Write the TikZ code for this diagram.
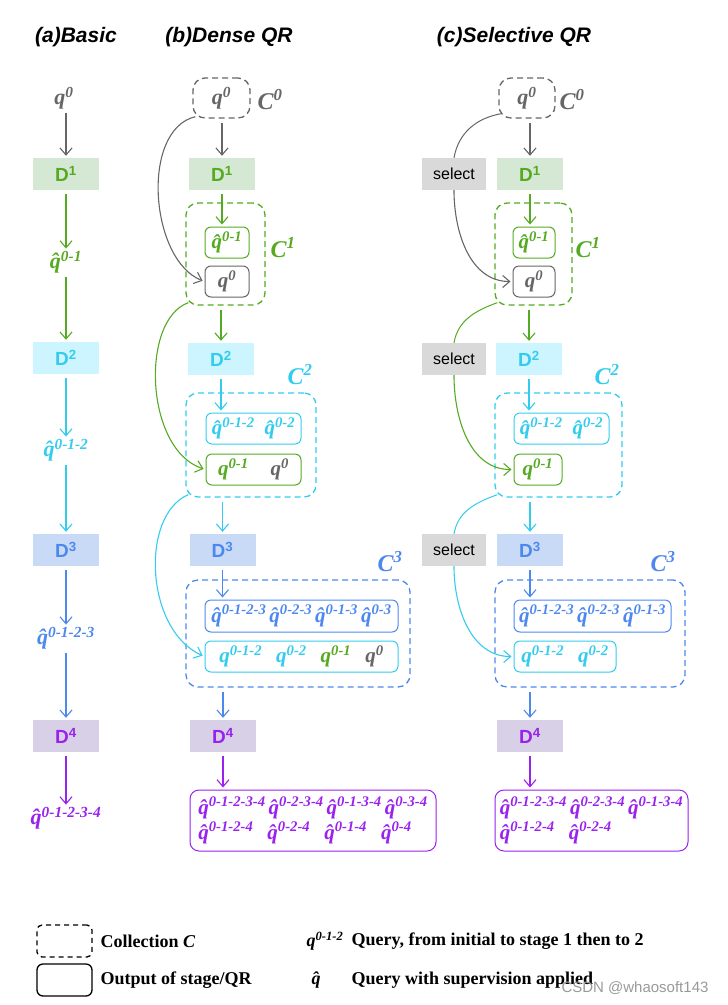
\documentclass[tikz,border=0pt]{standalone}
\usepackage{fontspec}
\setmainfont{Liberation Serif}
\newfontfamily\sanf{Liberation Sans}
\usetikzlibrary{arrows.meta}
\definecolor{cg}{HTML}{666666}
\definecolor{cgr}{HTML}{55AA22}
\definecolor{cgrf}{HTML}{D5E8D4}
\definecolor{ccy}{HTML}{33CCEE}
\definecolor{ccyf}{HTML}{CCF5FF}
\definecolor{cbl}{HTML}{4D88EE}
\definecolor{cblf}{HTML}{C8DAF6}
\definecolor{cpu}{HTML}{9922EE}
\definecolor{cpuf}{HTML}{D8D0E6}
\newcommand\Q[1]{{\bfseries\itshape q\textsuperscript{#1}}}
\newcommand\QH[1]{{\bfseries\itshape \^{q}\textsuperscript{#1}}}
\newcommand\vsrc[3]{\draw[ar,#1] (#2.south) -- (#2.south |- #3.north);}
\newcommand\vtgt[3]{\draw[ar,#1] (#2.south -| #3.north) -- (#3.north);}
\tikzset{
 qt/.style={font=\fontsize{22}{24}\selectfont, inner sep=0pt},
 ct/.style={font=\fontsize{24}{26}\selectfont\bfseries\itshape, inner sep=0pt},
 dn/.style={minimum width=66pt, minimum height=32pt, inner sep=0pt, font=\sanf\bfseries\fontsize{19}{20}\selectfont},
 sel/.style={fill=black!15, minimum width=64pt, minimum height=32pt, inner sep=0pt, font=\sanf\fontsize{16}{18}\selectfont},
 coll/.style={draw, dashed, dash pattern=on 6pt off 4pt, line width=1.3pt, rounded corners=12pt, inner sep=0pt},
 ob/.style={draw, line width=1pt, rounded corners=6pt, inner sep=0pt, font=\fontsize{21}{22}\selectfont},
 ar/.style={-{Straight Barb[length=7pt,width=12pt]}, line width=1.1pt, shorten <=4pt, shorten >=2pt},
 tt/.style={font=\sanf\bfseries\itshape\fontsize{21}{22}\selectfont, inner sep=0pt},
}
\begin{document}
\begin{tikzpicture}[x=1pt,y=-1pt]
\useasboundingbox (0,0) rectangle (728,1005);
% titles
\node[tt] (ta) at (76,37) {(a)Basic};
\node[tt] (tb) at (229,37) {(b)Dense QR};
\node[tt] (tc) at (514,37) {(c)Selective QR};
% ---------- column a
\node[qt,text=cg] (a0) at (64,98) {\Q{0}};
\node[dn,fill=cgrf,text=cgr] (aD1) at (66,174) {D\textsuperscript{1}};
\node[qt,text=cgr] (a1) at (66,262) {\QH{0-1}};
\node[dn,fill=ccyf,text=ccy] (aD2) at (66,358) {D\textsuperscript{2}};
\node[qt,text=ccy] (a2) at (66,450) {\QH{0-1-2}};
\node[dn,fill=cblf,text=cbl] (aD3) at (66,550) {D\textsuperscript{3}};
\node[qt,text=cbl] (a3) at (66,638) {\QH{0-1-2-3}};
\node[dn,fill=cpuf,text=cpu] (aD4) at (66,736) {D\textsuperscript{4}};
\node[qt,text=cpu] (a4) at (66,818) {\QH{0-1-2-3-4}};
\vtgt{cg}{a0}{aD1}
\vsrc{cgr}{aD1}{a1}
\vsrc{cgr}{a1}{aD2}
\vsrc{ccy}{aD2}{a2}
\vsrc{ccy}{a2}{aD3}
\vsrc{cbl}{aD3}{a3}
\vsrc{cbl}{a3}{aD4}
\vsrc{cpu}{aD4}{a4}
% ---------- column b
\node[coll,draw=cg,minimum width=57pt,minimum height=40pt,qt,text=cg] (bC0) at (221.5,98) {\Q{0}};
\node[ct,text=cg] (bL0) at (270,100) {C\textsuperscript{0}};
\node[dn,fill=cgrf,text=cgr] (bD1) at (222,174) {D\textsuperscript{1}};
\node[coll,draw=cgr,minimum width=79pt,minimum height=102pt] (bC1) at (225.5,254) {};
\node[ob,draw=cgr,text=cgr,minimum width=44pt,minimum height=31pt] (b11) at (227,242.5) {\QH{0-1}};
\node[ob,draw=cg,text=cg,minimum width=44pt,minimum height=31pt] (b12) at (227,281.5) {\Q{0}};
\node[ct,text=cgr] (bL1) at (283,248) {C\textsuperscript{1}};
\node[dn,fill=ccyf,text=ccy] (bD2) at (221,359) {D\textsuperscript{2}};
\node[coll,draw=ccy,minimum width=130pt,minimum height=104pt] (bC2) at (251,445) {};
\node[ob,draw=ccy,text=ccy,minimum width=95pt,minimum height=31pt] (b21) at (253.5,428.5) {\QH{0-1-2}\hspace{10pt}\QH{0-2}};
\node[ob,draw=cgr,minimum width=95pt,minimum height=31pt] (b22) at (253.5,469.5) {\textcolor{cgr}{\Q{0-1}}\hspace{22pt}\textcolor{cg}{\Q{0}}};
\node[ct,text=ccy] (bL2) at (300,375) {C\textsuperscript{2}};
\node[dn,fill=cblf,text=cbl] (bD3) at (222.5,550) {D\textsuperscript{3}};
\node[coll,draw=cbl,minimum width=224pt,minimum height=107pt] (bC3) at (298,633.5) {};
\node[ob,draw=cbl,text=cbl,minimum width=193pt,minimum height=32pt] (b31) at (301.5,616) {\QH{0-1-2-3}\hspace{3pt}\QH{0-2-3}\hspace{3pt}\QH{0-1-3}\hspace{3pt}\QH{0-3}};
\node[ob,draw=ccy,minimum width=193pt,minimum height=31pt] (b32) at (301.5,656.5) {\textcolor{ccy}{\Q{0-1-2}}\hspace{14pt}\textcolor{ccy}{\Q{0-2}}\hspace{14pt}\textcolor{cgr}{\Q{0-1}}\hspace{14pt}\textcolor{cg}{\Q{0}}};
\node[ct,text=cbl] (bL3) at (390,562) {C\textsuperscript{3}};
\node[dn,fill=cpuf,text=cpu] (bD4) at (223,736) {D\textsuperscript{4}};
\node[ob,draw=cpu,text=cpu,minimum width=246pt,minimum height=61pt,align=left,rounded corners=9pt] (b4) at (313,820.5) {\QH{0-1-2-3-4}\hspace{3pt}\QH{0-2-3-4}\hspace{3pt}\QH{0-1-3-4}\hspace{3pt}\QH{0-3-4}\\[3pt]\QH{0-1-2-4}\hspace{14pt}\QH{0-2-4}\hspace{14pt}\QH{0-1-4}\hspace{14pt}\QH{0-4}};
\vtgt{cg}{bC0}{bD1}
\vsrc{cgr}{bD1}{b11}
\vtgt{cgr}{bC1}{bD2}
\vsrc{ccy}{bD2}{b21}
\vtgt{ccy}{bC2}{bD3}
\vsrc{cbl}{bD3}{b31}
\vtgt{cbl}{bC3}{bD4}
\vsrc{cpu}{bD4}{b4}
\draw[ar,cg,shorten <=0pt] (bC0.south west) ++(3,-2) coordinate (bs0) .. controls (140,130) and (150,260) .. (b12.west);
\draw[ar,cgr,shorten <=0pt] (bC1.south west) ++(3,-3) coordinate (bs1) .. controls (140,320) and (145,450) .. (b22.west);
\draw[ar,ccy,shorten <=0pt] (bC2.south west) ++(3,-3) coordinate (bs2) .. controls (140,515) and (145,630) .. (b32.west);
% ---------- column c
\node[coll,draw=cg,minimum width=56pt,minimum height=40pt,qt,text=cg] (cC0) at (527,98) {\Q{0}};
\node[ct,text=cg] (cL0) at (572,100) {C\textsuperscript{0}};
\node[sel] (cs1) at (454,174) {select};
\node[dn,fill=cgrf,text=cgr] (cD1) at (530,174) {D\textsuperscript{1}};
\node[coll,draw=cgr,minimum width=77pt,minimum height=102pt] (cC1) at (533.5,254) {};
\node[ob,draw=cgr,text=cgr,minimum width=42pt,minimum height=31pt] (c11) at (534,242.5) {\QH{0-1}};
\node[ob,draw=cg,text=cg,minimum width=42pt,minimum height=31pt] (c12) at (534,281.5) {\Q{0}};
\node[ct,text=cgr] (cL1) at (588,248) {C\textsuperscript{1}};
\node[sel] (cs2) at (454,359) {select};
\node[dn,fill=ccyf,text=ccy] (cD2) at (529,359) {D\textsuperscript{2}};
\node[coll,draw=ccy,minimum width=127pt,minimum height=104pt] (cC2) at (558.5,445) {};
\node[ob,draw=ccy,text=ccy,minimum width=95pt,minimum height=31pt] (c21) at (561.5,428.5) {\QH{0-1-2}\hspace{10pt}\QH{0-2}};
\node[ob,draw=cgr,text=cgr,minimum width=48pt,minimum height=31pt] (c22) at (538,469.5) {\Q{0-1}};
\node[ct,text=ccy] (cL2) at (607,375) {C\textsuperscript{2}};
\node[sel] (cs3) at (454,550) {select};
\node[dn,fill=cblf,text=cbl] (cD3) at (530,550) {D\textsuperscript{3}};
\node[coll,draw=cbl,minimum width=190pt,minimum height=107pt] (cC3) at (590,633.5) {};
\node[ob,draw=cbl,text=cbl,minimum width=157pt,minimum height=32pt] (c31) at (592.5,616) {\QH{0-1-2-3}\hspace{3pt}\QH{0-2-3}\hspace{3pt}\QH{0-1-3}};
\node[ob,draw=ccy,text=ccy,minimum width=102pt,minimum height=31pt] (c32) at (565,656.5) {\Q{0-1-2}\hspace{14pt}\Q{0-2}};
\node[ct,text=cbl] (cL3) at (663,562) {C\textsuperscript{3}};
\node[dn,fill=cpuf,text=cpu] (cD4) at (530,736) {D\textsuperscript{4}};
\node[ob,draw=cpu,text=cpu,minimum width=193pt,minimum height=61pt,align=left,rounded corners=9pt] (c4) at (591.5,820.5) {\QH{0-1-2-3-4}\hspace{3pt}\QH{0-2-3-4}\hspace{3pt}\QH{0-1-3-4}\\[3pt]\QH{0-1-2-4}\hspace{14pt}\QH{0-2-4}\hspace{98pt}};
\vtgt{cg}{cC0}{cD1}
\vsrc{cgr}{cD1}{c11}
\vtgt{cgr}{cC1}{cD2}
\vsrc{ccy}{cD2}{c21}
\vtgt{ccy}{cC2}{cD3}
\vsrc{cbl}{cD3}{c31}
\vtgt{cbl}{cC3}{cD4}
\vsrc{cpu}{cD4}{c4}
\draw[cg,line width=1pt] (cC0.south west) ++(3,-5) coordinate (cp0) to[out=190,in=80] (cs1.north);
\draw[ar,cg,shorten <=0pt] (cs1.south) to[out=-90,in=180] (c12.west);
\draw[cgr,line width=1pt] (cC1.south west) ++(3,-3) coordinate (cp1) to[out=200,in=80] (cs2.north);
\draw[ar,cgr,shorten <=0pt] (cs2.south) to[out=-90,in=180] (c22.west);
\draw[ccy,line width=1pt] (cC2.south west) ++(3,-3) coordinate (cp2) to[out=200,in=80] (cs3.north);
\draw[ar,ccy,shorten <=0pt] (cs3.south) to[out=-90,in=180] (c32.west);
% ---------- legend
\node[draw,dashed,dash pattern=on 5pt off 4pt,line width=1.3pt,rounded corners=5pt,minimum width=55pt,minimum height=32pt] (lg1) at (64.5,941) {};
\node[draw,line width=1.3pt,rounded corners=6pt,minimum width=55pt,minimum height=32pt] (lg2) at (64.5,980) {};
\node[anchor=west,font=\bfseries\fontsize{18}{20}\selectfont] (lt1) at (97,941) {Collection \textit{C}};
\node[anchor=west,font=\bfseries\fontsize{18}{20}\selectfont] (lt2) at (97,980) {Output of stage/QR};
\node[anchor=west,font=\fontsize{18}{20}\selectfont] (lq1) at (303,941) {\Q{0-1-2}};
\node[anchor=west,font=\fontsize{18}{20}\selectfont] (lq2) at (308,980) {\QH{}};
\node[anchor=west,font=\bfseries\fontsize{18}{20}\selectfont] (lt3) at (348,941) {Query, from initial to stage 1 then to 2};
\node[anchor=west,font=\bfseries\fontsize{18}{20}\selectfont] (lt4) at (348,980) {Query with supervision applied};
\node[anchor=east,font=\sanf\fontsize{15}{16}\selectfont,text=black!40] (wm) at (712,988) {CSDN @whaosoft143};
\end{tikzpicture}
\end{document}
